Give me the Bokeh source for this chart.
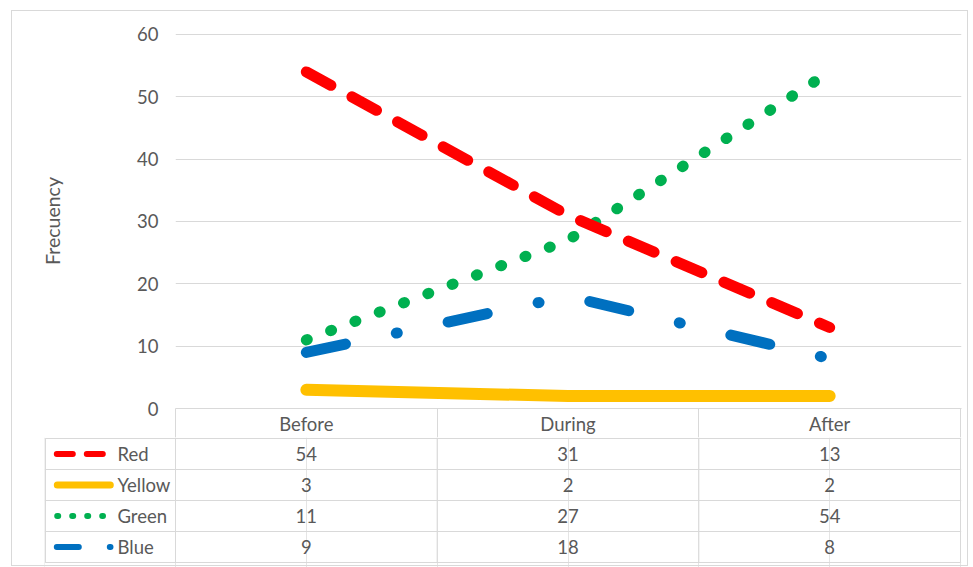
from bokeh.plotting import figure
from bokeh.layouts import column
from bokeh.models import Range1d, FixedTicker, InlineStyleSheet, ColumnDataSource
from bokeh.core.properties import value
from bokeh.embed import file_html
from bokeh.resources import INLINE

# ---------------- data ----------------
categories = ["Before", "During", "After"]
series_names = ["Red", "Yellow", "Green", "Blue"]
red_values = [54, 31, 13]
yellow_values = [3, 2, 2]
green_values = [11, 27, 54]
blue_values = [9, 18, 8]
y_ticks = [0, 10, 20, 30, 40, 50, 60]
y_axis_title = "Frecuency"

series_values = {
    "Red": red_values,
    "Yellow": yellow_values,
    "Green": green_values,
    "Blue": blue_values,
}

# ---------------- styles ----------------
FONT = "Lato"
FS = "18.5px"
TXT = "#595959"
GRID = "#d9d9d9"
styles = {
    "Red": dict(color="#ff0000", width=11, dash="28 24"),
    "Yellow": dict(color="#ffc000", width=12, dash="solid"),
    "Green": dict(color="#00b050", width=11, dash="1 25"),
    "Blue": dict(color="#0070c0", width=11, dash="40 52 1 52"),
}
legend_styles = {
    "Red": dict(width=6, dash="16 14", x0=56.3, x1=102.3),
    "Yellow": dict(width=7, dash="solid", x0=56.8, x1=109.8),
    "Green": dict(width=6, dash="1 14", x0=56.7, x1=102.5),
    "Blue": dict(width=6, dash="22 31 1 30", x0=56.3, x1=110.0),
}

PX = 261.667          # pixels per category unit
LEFT = 175            # plot area left edge (px)
n = len(categories)
xs = [i + 0.5 for i in range(n)]


def px2x(px):
    return (px - LEFT) / PX


# ---------------- top: line chart ----------------
top = figure(width=973, height=437,
             x_range=Range1d(0, (961 - LEFT) / PX),
             y_range=Range1d(0, 60.16),
             output_backend="svg", toolbar_location=None,
             min_border=0, min_border_left=LEFT, min_border_right=12,
             min_border_top=33, min_border_bottom=29, frame_align=False)
top.outline_line_color = None
top.background_fill_color = "white"
top.border_fill_color = "white"
top.xgrid.visible = False
top.ygrid.grid_line_color = GRID
top.ygrid.grid_line_width = 1

ya = top.yaxis[0]
ya.ticker = FixedTicker(ticks=y_ticks)
ya.axis_line_color = None
ya.major_tick_line_color = None
ya.minor_tick_line_color = None
ya.major_tick_out = 0
ya.major_tick_in = 0
ya.major_label_standoff = 17
ya.major_label_text_font = FONT
ya.major_label_text_font_size = FS
ya.major_label_text_color = TXT
ya.axis_label = y_axis_title
ya.axis_label_text_font = FONT
ya.axis_label_text_font_size = "19.5px"
ya.axis_label_text_font_style = "normal"
ya.axis_label_text_color = TXT
ya.axis_label_standoff = 70

xa = top.xaxis[0]
xa.ticker = FixedTicker(ticks=xs, minor_ticks=list(range(n + 1)))
xa.major_label_overrides = {x: c for x, c in zip(xs, categories)}
xa.axis_line_color = GRID
xa.major_tick_line_color = None
xa.major_tick_out = 0
xa.major_tick_in = 0
xa.minor_tick_line_color = GRID
xa.minor_tick_in = 0
xa.minor_tick_out = 29
xa.major_label_standoff = -25
xa.major_label_text_font = FONT
xa.major_label_text_font_size = FS
xa.major_label_text_color = TXT

for name in ["Yellow", "Blue", "Green", "Red"]:
    st = styles[name]
    src = ColumnDataSource(dict(x=xs, y=series_values[name]))
    top.line("x", "y", source=src, line_color=st["color"], line_width=st["width"],
             line_dash=st["dash"], line_cap="round", line_join="round")

# ---------------- bottom: data table ----------------
ROW = 31.0
left_edge = px2x(45)
bottom = figure(width=973, height=130,
                x_range=Range1d(px2x(44), (961 - LEFT) / PX),
                y_range=Range1d(-5 / ROW, len(series_names) + 1 / ROW),
                x_axis_location=None, y_axis_location=None,
                output_backend="svg", toolbar_location=None,
                min_border=0, min_border_left=44, min_border_right=12,
                min_border_top=0, min_border_bottom=0, frame_align=False)
bottom.outline_line_color = None
bottom.background_fill_color = "white"
bottom.border_fill_color = "white"

m = len(series_names)
top_y = m + 1 / ROW
# horizontal borders
bottom.segment(x0=[left_edge] * (m + 1), y0=list(range(m + 1)),
               x1=[n] * (m + 1), y1=list(range(m + 1)),
               line_color=GRID, line_width=1)
# vertical borders
bottom.segment(x0=[left_edge] + list(range(n + 1)), y0=[0] * (n + 2),
               x1=[left_edge] + list(range(n + 1)), y1=[m] + [top_y] * (n + 1),
               line_color=GRID, line_width=1)

for i, name in enumerate(series_names):
    yc = m - 1 - i + 0.5
    vals = series_values[name]
    bottom.text(x=xs, y=[yc] * n, text=[str(v) for v in vals],
                text_font=value(FONT), text_font_size=value(FS), text_color=TXT,
                text_align="center", text_baseline="middle")
    bottom.text(x=[px2x(117)], y=[yc], text=[name],
                text_font=value(FONT), text_font_size=value(FS), text_color=TXT,
                text_align="left", text_baseline="middle")
    ls = legend_styles[name]
    bottom.line(x=[px2x(ls["x0"]), px2x(ls["x1"])], y=[yc, yc],
                line_color=styles[name]["color"], line_width=ls["width"],
                line_dash=ls["dash"], line_cap="round")

css = InlineStyleSheet(css=(
    ":host{position:relative;}"
    ":host::after{content:'';position:absolute;left:11px;top:10px;width:957px;"
    "height:556px;border:1px solid #d9d9d9;box-sizing:border-box;pointer-events:none;}"
))
layout = column(top, bottom, stylesheets=[css])

open("out.html", "w").write(file_html(layout, INLINE))
